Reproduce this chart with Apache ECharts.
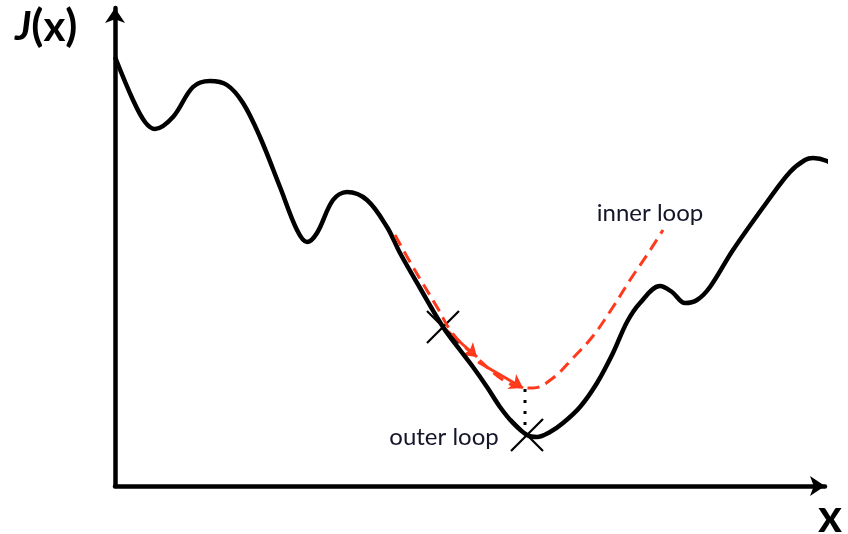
<!DOCTYPE html>
<html lang="en">
<head>
    <meta charset="UTF-8">
    <title>inner loop / outer loop</title>
    <script src="https://cdn.jsdelivr.net/npm/echarts@6/dist/echarts.min.js"></script>
</head>
<style>
    body { margin:0; padding:0; background:#fff; }
</style>
<body>
<div id="main" style="width: 848px;height: 534px;"></div>
<script>
    // 目标函数 J(x)，坐标单位直接取自原图
    var costCurve = [[0,429],[18,386],[30,364],[40,357],[58,369],[78,399],[95,405],[112,401],[128,383],
        [145,349],[165,299],[182,256],[192,244],[202,253],[218,286],[232,294],[252,286],[272,259],[285,233],
        [305,198],[328,159],[345,136],[358,119],[372,99],[385,79],[398,63],[412,51],[422,49],[435,54],[448,63],
        [465,79],[482,103],[498,133],[512,164],[525,183],[545,200],[557,194],[570,183],[582,186],[595,199],
        [618,236],[652,284],[675,314],[690,326],[698,328],[712,325],[725,317]];
    // 内循环的近似函数（虚线）
    var innerCurve = [[280,251],[298,219],[322,179],[338,152],[360,130],[388,106],[405,99],[418,98],
        [438,108],[458,128],[478,150],[498,179],[515,206],[532,231],[548,256]];
    // 内循环的迭代步
    var innerSteps = [[[328,159],[362,129]],[[363,124],[408,98]]];
    // 外循环的迭代点
    var outerIterates = [[328,159],[412,51]];
    var outerLink = [[410,97],[410,57]];
    var annotations = [
        {name: 'inner loop', value: [535,273]},
        {name: 'outer loop', value: [329,49]}
    ];

    var myChart = echarts.init(document.getElementById('main'));
    var option = {
        animation: false,
        grid: {left: 115, right: 23, top: 8, bottom: 48},
        xAxis: {
            type: 'value', min: 0, max: 710,
            axisLine: {lineStyle: {color: '#000', width: 4.5}, symbol: ['none', 'arrow'], symbolSize: [15, 15]},
            axisTick: {show: false}, axisLabel: {show: false}, splitLine: {show: false}
        },
        yAxis: {
            type: 'value', min: 0, max: 478,
            axisLine: {lineStyle: {color: '#000', width: 4.5}, symbol: ['none', 'arrow'], symbolSize: [15, 15]},
            axisTick: {show: false}, axisLabel: {show: false}, splitLine: {show: false}
        },
        graphic: [
            {
                type: 'text', left: 15, top: 5,
                style: {
                    text: '{j|J}{p|(}{b|x}{p|)}',
                    rich: {
                        j: {fontStyle: 'italic', fontWeight: 'bold', fontSize: 40, fontFamily: 'Lato', fill: '#000'},
                        p: {fontWeight: 'bold', fontSize: 44, fontFamily: 'Lato', fill: '#000'},
                        b: {fontWeight: 'bold', fontSize: 42, fontFamily: 'Lato', fill: '#000'}
                    }
                }
            },
            {
                type: 'text', left: 818, top: 494,
                style: {text: 'x', fontWeight: 'bold', fontSize: 46, fontFamily: 'Lato', fill: '#000'}
            }
        ],
        series: [
            {
                type: 'line', data: costCurve, smooth: 0.35, showSymbol: false, clip: false,
                lineStyle: {color: '#000', width: 4.5}
            },
            {
                type: 'line', data: innerCurve, smooth: 0.4, showSymbol: false, clip: false,
                lineStyle: {color: '#ff3a1c', width: 3, type: [12, 7]}
            },
            {
                type: 'lines', coordinateSystem: 'cartesian2d', data: innerSteps.map(function (s) { return {coords: s}; }),
                symbol: ['none', 'arrow'], symbolSize: 13,
                lineStyle: {color: '#ff3a1c', width: 3, opacity: 1}
            },
            {
                type: 'line', data: outerLink, showSymbol: false,
                lineStyle: {color: '#000', width: 3, type: [3, 8]}
            },
            {
                type: 'scatter', data: outerIterates,
                symbol: 'path://M0,0L10,10M0,10L10,0', symbolSize: 32,
                itemStyle: {color: 'none', borderColor: '#000', borderWidth: 2.2, opacity: 1}
            },
            {
                type: 'scatter', data: annotations, symbolSize: 0,
                itemStyle: {opacity: 1},
                label: {
                    show: true, position: [0, 0], align: 'center', verticalAlign: 'middle',
                    formatter: '{b}', fontFamily: 'Lato', fontSize: 24, color: '#15152a'
                }
            }
        ]
    };
    myChart.setOption(option);
</script>
</body>
</html>
